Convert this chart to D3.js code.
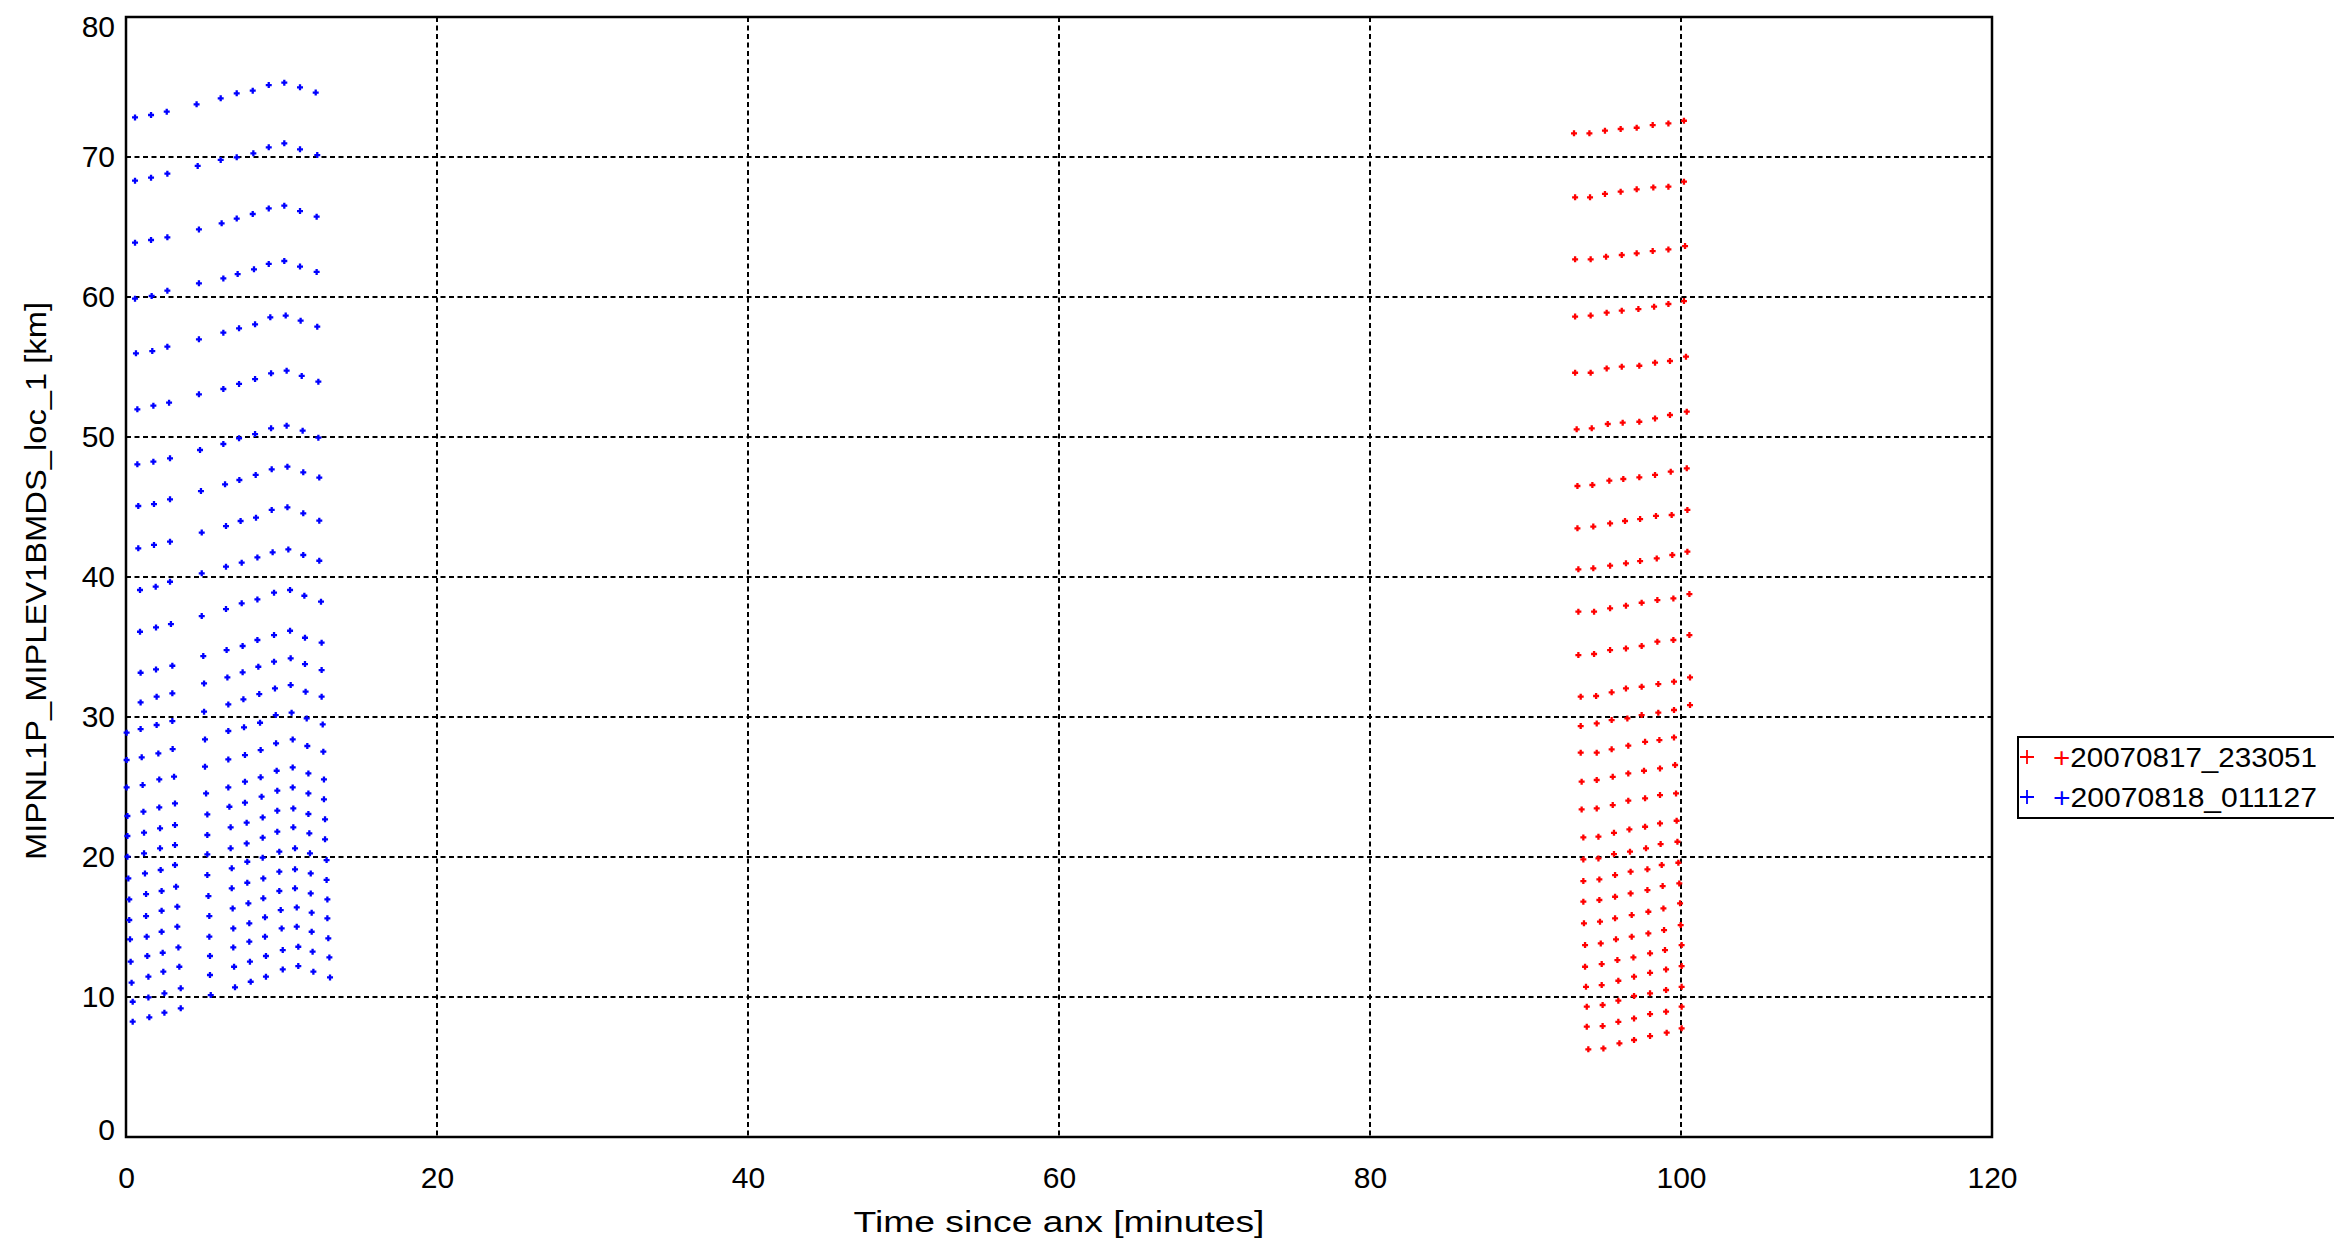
<!DOCTYPE html>
<html>
<head>
<meta charset="utf-8">
<script src="https://cdn.jsdelivr.net/npm/d3@7"></script>
<style>
  html, body { margin: 0; padding: 0; background: #ffffff; }
  svg { display: block; }
  text { font-family: "Liberation Sans", Arial, sans-serif; fill: #000; }
</style>
</head>
<body>
<svg id="chart" width="2334" height="1241"></svg>
<script>
// ---------------- DATA ----------------
const xTicks = [0, 20, 40, 60, 80, 100, 120];
const yTicks = [0, 10, 20, 30, 40, 50, 60, 70, 80];
const xTitle = "Time since anx [minutes]";
const yTitle = "MIPNL1P_MIPLEV1BMDS_loc_1 [km]";
const seriesNames = ["+20070817_233051", "+20070818_011127"];

// blue series (20070818_011127): each row = one sweep across scans
const blueTime = [
[0.58,1.61,2.62,4.54,6.09,7.12,8.15,9.18,10.18,11.19,12.20],
[0.58,1.61,2.66,4.61,6.09,7.12,8.19,9.18,10.18,11.19,12.30],
[0.58,1.61,2.66,4.69,6.15,7.12,8.15,9.18,10.18,11.19,12.26],
[0.58,1.65,2.66,4.69,6.26,7.18,8.23,9.18,10.18,11.19,12.26],
[0.64,1.69,2.66,4.69,6.26,7.27,8.30,9.28,10.27,11.23,12.30],
[0.73,1.76,2.77,4.69,6.26,7.27,8.30,9.33,10.33,11.30,12.37],
[0.73,1.76,2.83,4.76,6.26,7.27,8.30,9.33,10.33,11.36,12.37],
[0.79,1.80,2.83,4.82,6.37,7.29,8.34,9.37,10.38,11.40,12.43],
[0.79,1.80,2.83,4.87,6.43,7.37,8.36,9.37,10.38,11.40,12.43],
[0.90,1.91,2.83,4.87,6.43,7.44,8.45,9.43,10.44,11.40,12.43],
[0.90,1.93,2.89,4.87,6.43,7.44,8.45,9.52,10.55,11.47,12.54],
[0.94,1.93,2.98,4.97,6.47,7.50,8.45,9.52,10.55,11.51,12.58],
[0.94,1.97,2.98,5.02,6.52,7.50,8.51,9.52,10.59,11.51,12.58],
[0.04,0.94,1.97,2.98,5.02,6.58,7.55,8.57,9.58,10.59,11.55,12.58],
[0.04,1.01,2.08,3.00,5.08,6.58,7.59,8.62,9.63,10.65,11.62,12.65],
[0.04,1.07,2.14,3.09,5.08,6.58,7.65,8.66,9.65,10.72,11.66,12.69],
[0.09,1.12,2.14,3.15,5.15,6.58,7.65,8.66,9.69,10.72,11.73,12.73],
[0.09,1.16,2.19,3.15,5.23,6.65,7.65,8.72,9.73,10.72,11.73,12.73],
[0.09,1.16,2.19,3.15,5.23,6.73,7.76,8.79,9.73,10.76,11.73,12.80],
[0.15,1.22,2.23,3.15,5.23,6.73,7.76,8.79,9.73,10.76,11.79,12.80],
[0.21,1.29,2.29,3.22,5.23,6.80,7.80,8.79,9.86,10.87,11.83,12.90],
[0.21,1.29,2.29,3.30,5.30,6.80,7.80,8.83,9.86,10.87,11.88,12.90],
[0.26,1.33,2.29,3.30,5.36,6.86,7.87,8.83,9.86,10.87,11.88,12.95],
[0.30,1.37,2.36,3.37,5.36,6.90,7.93,8.94,9.95,10.98,11.94,12.95],
[0.36,1.44,2.40,3.43,5.40,6.90,7.93,8.94,10.01,10.98,11.94,13.01],
[0.43,1.44,2.47,3.52,5.40,6.95,7.97,9.00,10.08,11.08,12.00,13.08],
[0.43,1.50,2.47,3.52,5.45,7.01,8.02,9.00,10.08,11.08,12.05,13.12]
];
const blueAlt = [
[72.83,73.00,73.24,73.76,74.19,74.55,74.74,75.14,75.31,74.98,74.60],
[68.31,68.52,68.81,69.36,69.79,69.98,70.26,70.69,70.98,70.55,70.14],
[63.88,64.07,64.26,64.83,65.26,65.60,65.93,66.33,66.52,66.14,65.74],
[59.88,60.07,60.45,60.98,61.33,61.64,61.98,62.36,62.57,62.17,61.79],
[55.98,56.14,56.45,56.98,57.45,57.76,58.05,58.55,58.67,58.31,57.88],
[51.98,52.24,52.45,53.05,53.43,53.79,54.14,54.55,54.74,54.36,53.95],
[48.05,48.24,48.48,49.07,49.50,49.91,50.21,50.62,50.81,50.45,49.95],
[45.07,45.21,45.55,46.14,46.62,46.93,47.29,47.69,47.88,47.48,47.10],
[42.05,42.29,42.52,43.17,43.64,44.00,44.24,44.79,44.98,44.55,44.02],
[39.07,39.31,39.66,40.26,40.74,41.02,41.40,41.76,41.97,41.57,41.16],
[36.09,36.40,36.64,37.21,37.71,38.12,38.40,38.88,39.07,38.66,38.24],
[33.16,33.40,33.66,34.35,34.78,35.07,35.50,35.85,36.16,35.66,35.31],
[31.04,31.45,31.69,32.40,32.83,33.19,33.59,33.95,34.19,33.78,33.35],
[28.88,29.14,29.43,29.71,30.38,30.90,31.26,31.64,32.04,32.28,31.81,31.45],
[26.93,27.12,27.40,27.71,28.40,29.00,29.26,29.59,30.14,30.31,29.90,29.47],
[24.97,25.14,25.54,25.74,26.45,26.97,27.28,27.64,28.12,28.40,27.93,27.52],
[22.93,23.24,23.54,23.83,24.54,24.97,25.38,25.69,26.16,26.40,25.97,25.54],
[21.50,21.74,22.05,22.28,23.04,23.59,23.88,24.31,24.74,24.97,24.54,24.12],
[20.02,20.26,20.62,20.85,21.57,22.12,22.45,22.83,23.31,23.47,23.07,22.69],
[18.47,18.83,19.07,19.43,20.19,20.62,20.97,21.38,21.81,22.12,21.69,21.26],
[16.97,17.35,17.57,17.88,18.71,19.19,19.66,19.95,20.38,20.62,20.26,19.78],
[15.50,15.78,16.16,16.45,17.21,17.76,18.16,18.47,18.95,19.12,18.83,18.36],
[14.12,14.31,14.66,15.02,15.78,16.33,16.69,17.05,17.57,17.76,17.40,16.97],
[12.52,12.93,13.16,13.54,14.31,14.90,15.26,15.69,16.21,16.40,16.02,15.62],
[11.02,11.45,11.81,12.16,12.93,13.54,13.95,14.31,14.90,15.02,14.66,14.19],
[9.66,9.97,10.26,10.62,11.57,12.16,12.52,12.93,13.35,13.59,13.24,12.83],
[8.24,8.55,8.88,9.19,10.14,10.69,11.09,11.45,11.97,12.21,11.81,11.40]
];

// red series (20070817_233051)
const redTime = [
[93.12,94.11,95.11,96.12,97.15,98.18,99.19,100.19],
[93.19,94.15,95.11,96.12,97.15,98.22,99.19,100.19],
[93.19,94.19,95.18,96.19,97.15,98.18,99.19,100.26],
[93.19,94.19,95.22,96.19,97.26,98.27,99.19,100.19],
[93.19,94.19,95.22,96.19,97.32,98.33,99.29,100.32],
[93.29,94.26,95.29,96.25,97.32,98.33,99.29,100.37],
[93.34,94.30,95.39,96.29,97.32,98.33,99.34,100.37],
[93.34,94.36,95.44,96.40,97.37,98.39,99.40,100.41],
[93.40,94.36,95.44,96.46,97.37,98.44,99.44,100.41],
[93.40,94.41,95.44,96.46,97.47,98.48,99.51,100.54],
[93.40,94.41,95.44,96.46,97.47,98.48,99.51,100.54],
[93.55,94.54,95.54,96.46,97.47,98.54,99.55,100.58],
[93.55,94.58,95.54,96.55,97.47,98.54,99.55,100.58],
[93.55,94.58,95.54,96.61,97.69,98.61,99.55],
[93.61,94.58,95.61,96.61,97.62,98.65,99.62],
[93.61,94.58,95.61,96.61,97.69,98.65,99.68],
[93.72,94.69,95.69,96.68,97.69,98.65,99.72],
[93.72,94.69,95.69,96.72,97.75,98.69,99.77],
[93.72,94.75,95.76,96.76,97.84,98.76,99.83],
[93.72,94.75,95.76,96.76,97.84,98.82,99.89],
[93.76,94.79,95.76,96.83,97.90,98.87,99.94],
[93.83,94.84,95.82,96.83,97.90,98.91,99.98],
[93.83,94.90,95.91,96.94,98.01,98.97,100.04],
[93.89,94.90,95.97,96.98,98.01,99.04,100.04],
[93.94,94.96,95.97,96.98,98.01,99.04,100.04],
[93.94,94.96,95.97,96.98,98.01,99.04,100.04],
[94.04,95.01,96.04,96.98,98.01,99.08,100.04]
];
const redAlt = [
[71.69,71.69,71.88,72.00,72.09,72.28,72.40,72.59],
[67.12,67.12,67.36,67.52,67.69,67.83,67.88,68.24],
[62.69,62.69,62.88,63.00,63.12,63.28,63.40,63.64],
[58.60,58.67,58.88,59.02,59.14,59.31,59.50,59.71],
[54.59,54.59,54.90,55.02,55.09,55.31,55.43,55.74],
[50.55,50.62,50.93,51.02,51.09,51.33,51.57,51.81],
[46.50,46.57,46.88,47.00,47.12,47.29,47.52,47.76],
[43.48,43.60,43.83,44.00,44.14,44.36,44.43,44.79],
[40.55,40.62,40.81,40.98,41.14,41.33,41.57,41.81],
[37.52,37.52,37.76,37.95,38.16,38.35,38.47,38.78],
[34.42,34.50,34.78,34.90,35.07,35.38,35.50,35.85],
[31.45,31.50,31.76,32.04,32.16,32.35,32.52,32.83],
[29.35,29.54,29.78,29.90,30.14,30.31,30.50,30.85],
[27.45,27.45,27.69,27.95,28.23,28.35,28.54],
[25.38,25.50,25.73,25.97,26.16,26.33,26.57],
[23.40,23.47,23.71,24.02,24.19,24.42,24.54],
[21.40,21.45,21.73,21.97,22.16,22.40,22.59],
[19.83,19.90,20.21,20.38,20.62,20.92,21.09],
[18.28,18.40,18.71,18.95,19.12,19.43,19.59],
[16.81,16.93,17.16,17.40,17.64,17.92,18.11],
[15.26,15.38,15.62,15.85,16.09,16.33,16.69],
[13.71,13.83,14.12,14.31,14.54,14.78,15.14],
[12.16,12.35,12.64,12.83,13.12,13.35,13.71],
[10.73,10.85,11.16,11.45,11.73,11.97,12.21],
[9.31,9.43,9.74,10.07,10.26,10.50,10.73],
[7.88,7.92,8.23,8.47,8.78,8.95,9.31],
[6.26,6.33,6.69,6.93,7.21,7.45,7.76]
];

// ---------------- LAYOUT ----------------
const W = 2334, H = 1241;
const plot = { left: 126, right: 1992, top: 17, bottom: 1137 };
const svg = d3.select("#chart");
svg.append("rect").attr("width", W).attr("height", H).attr("fill", "#fff");

const x = d3.scaleLinear().domain([0, 120]).range([plot.left, plot.right]);
const y = d3.scaleLinear().domain([0, 80]).range([plot.bottom, plot.top]);
const plotW = plot.right - plot.left, plotH = plot.bottom - plot.top;

// grid lines
const grid = svg.append("g");
grid.selectAll("line.gx").data(xTicks.filter(d => d > 0 && d < 120)).join("line")
  .attr("x1", d => x(d)).attr("x2", d => x(d))
  .attr("y1", plot.top).attr("y2", plot.bottom)
  .attr("stroke", "#000").attr("stroke-width", 2).attr("stroke-dasharray", "5,3.5");
grid.selectAll("line.gy").data(yTicks.filter(d => d > 0 && d < 80)).join("line")
  .attr("y1", d => y(d)).attr("y2", d => y(d))
  .attr("x1", plot.left).attr("x2", plot.right)
  .attr("stroke", "#000").attr("stroke-width", 2).attr("stroke-dasharray", "5,3.5");

// axes (labels only; gridlines above)
const xAxis = d3.axisBottom(x).tickValues(xTicks).tickSize(0).tickPadding(30).tickFormat(d3.format("d"));
const gx = svg.append("g").attr("transform", `translate(0,${plot.bottom})`).call(xAxis);
gx.select(".domain").remove();
gx.selectAll("text").attr("font-size", 30).attr("font-family", "Liberation Sans, Arial, sans-serif").attr("fill", "#000");

const yAxis = d3.axisLeft(y).tickValues(yTicks).tickSize(0).tickPadding(11).tickFormat(d3.format("d"));
const gy = svg.append("g").attr("transform", `translate(${plot.left},0)`).call(yAxis);
gy.select(".domain").remove();
gy.selectAll("text").attr("font-size", 30).attr("font-family", "Liberation Sans, Arial, sans-serif").attr("fill", "#000")
  .attr("y", d => d === 80 ? 10 : (d === 0 ? -7 : 0));

// frame
svg.append("rect").attr("x", plot.left).attr("y", plot.top)
  .attr("width", plotW).attr("height", plotH)
  .attr("fill", "none").attr("stroke", "#000").attr("stroke-width", 2.5);

// axis titles
svg.append("text").attr("x", (plot.left + plot.right) / 2).attr("y", 1232)
  .attr("text-anchor", "middle").attr("font-size", 30)
  .attr("textLength", 411).attr("lengthAdjust", "spacingAndGlyphs")
  .text(xTitle);
svg.append("text").attr("transform", `translate(46,581) rotate(-90)`)
  .attr("text-anchor", "middle").attr("font-size", 30)
  .attr("textLength", 558).attr("lengthAdjust", "spacingAndGlyphs")
  .text(yTitle);

// markers
const plusPath = (s) => `M${-s},0H${s}M0,${-s}V${s}`;
function drawSeries(times, alts, color) {
  const pts = [];
  times.forEach((row, i) => row.forEach((t, j) => pts.push([t, alts[i][j]])));
  svg.append("g").selectAll("path").data(pts).join("path")
    .attr("transform", d => `translate(${x(d[0])},${y(d[1])})`)
    .attr("d", plusPath(3))
    .attr("fill", "none").attr("stroke", color).attr("stroke-width", 2.3);
}
drawSeries(redTime, redAlt, "#ff0000");
drawSeries(blueTime, blueAlt, "#0000ff");

// legend
const lg = svg.append("g");
lg.append("rect").attr("x", 2018).attr("y", 737).attr("width", 330).attr("height", 81)
  .attr("fill", "#fff").attr("stroke", "#000").attr("stroke-width", 2);
const legColors = ["#ff0000", "#0000ff"];
seriesNames.forEach((name, i) => {
  const cy = 757 + i * 40;
  lg.append("path").attr("transform", `translate(2027,${cy})`).attr("d", plusPath(7))
    .attr("stroke", legColors[i]).attr("stroke-width", 1.8).attr("fill", "none");
  const t = lg.append("text").attr("x", 2053).attr("y", cy + 10).attr("font-size", 28)
    .attr("textLength", 264).attr("lengthAdjust", "spacingAndGlyphs");
  t.append("tspan").attr("fill", legColors[i]).text(name.slice(0, 1));
  t.append("tspan").attr("fill", "#000").text(name.slice(1));
});
</script>
</body>
</html>
